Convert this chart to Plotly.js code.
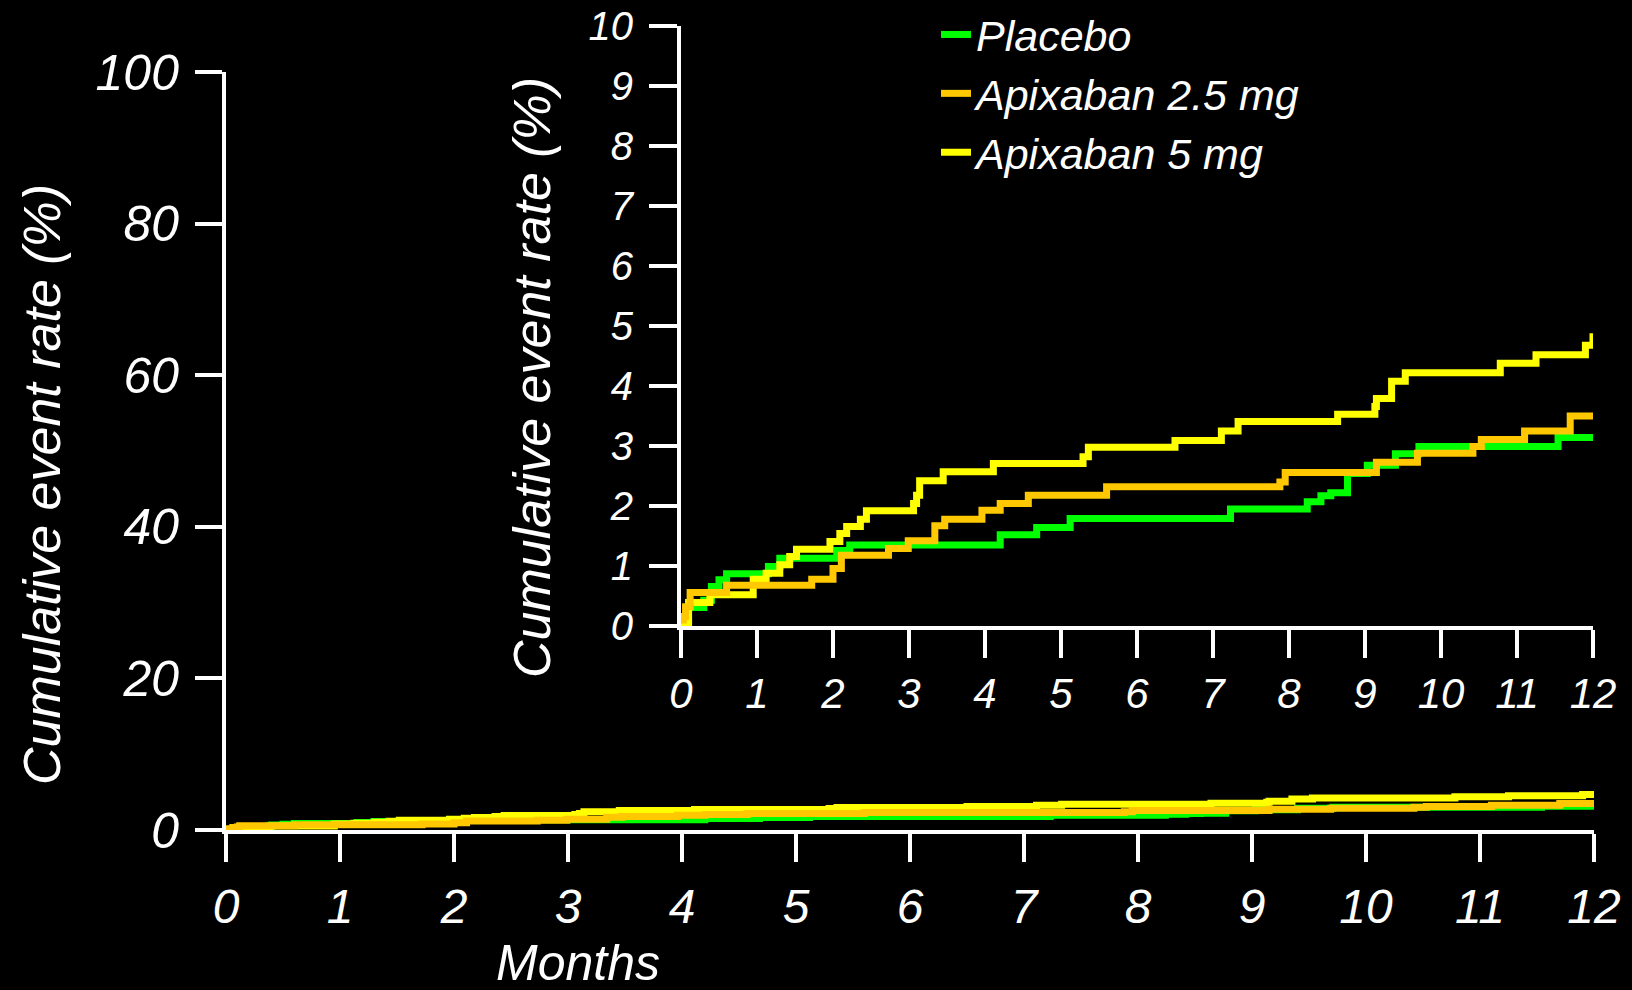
<!DOCTYPE html>
<html>
<head>
<meta charset="utf-8">
<script src="https://cdn.plot.ly/plotly-3.0.1.min.js"></script>
<style>html,body{margin:0;padding:0;background:#000;}#chart{width:1632px;height:990px;}</style>
</head>
<body>
<div id="chart"></div>
<script>
// Kaplan-Meier style cumulative event rates (%), step points
const seriesNames = ["Placebo", "Apixaban 2.5 mg", "Apixaban 5 mg"];
const seriesColors = ["#00ff00", "#ffc800", "#ffff00"];

const placeboMonths = [0, 0.08, 0.3, 0.4, 0.5, 0.6, 1.15, 1.3, 2.05, 2.22, 4.2, 4.68, 5.12, 7.23, 8.24, 8.42, 8.55, 8.77, 9.03, 9.4, 9.71, 11.54, 12];
const placeboRate   = [0, 0.31, 0.43, 0.66, 0.77, 0.87, 0.99, 1.13, 1.26, 1.35, 1.52, 1.64, 1.79, 1.95, 2.07, 2.17, 2.22, 2.54, 2.68, 2.87, 2.99, 3.14, 3.14];

const apix25Months = [0, 0.03, 0.06, 0.12, 0.6, 1.72, 2.0, 2.11, 2.73, 2.99, 3.34, 3.47, 3.96, 4.2, 4.57, 5.6, 7.88, 7.95, 9.15, 9.69, 10.42, 10.53, 11.1, 11.7, 12];
const apix25Rate   = [0.1, 0.16, 0.32, 0.56, 0.68, 0.78, 0.96, 1.18, 1.29, 1.42, 1.67, 1.78, 1.93, 2.04, 2.18, 2.32, 2.4, 2.56, 2.73, 2.88, 2.99, 3.11, 3.25, 3.5, 3.5];

const apix5Months = [0, 0.1, 0.38, 0.95, 1.12, 1.3, 1.43, 1.52, 1.96, 2.09, 2.18, 2.36, 2.44, 3.06, 3.1, 3.14, 3.45, 4.11, 5.29, 5.36, 6.5, 7.11, 7.33, 8.64, 9.13, 9.15, 9.35, 9.53, 10.78, 11.25, 11.9, 12];
const apix5Rate   = [0, 0.39, 0.52, 0.78, 0.88, 1.02, 1.16, 1.28, 1.41, 1.54, 1.66, 1.78, 1.92, 2.04, 2.18, 2.42, 2.57, 2.71, 2.82, 2.98, 3.09, 3.25, 3.41, 3.53, 3.66, 3.79, 4.08, 4.22, 4.38, 4.52, 4.68, 4.88];

const monthTicks = [0,1,2,3,4,5,6,7,8,9,10,11,12];
const mainYTicks = [0,20,40,60,80,100];
const insetYTicks = [0,1,2,3,4,5,6,7,8,9,10];

const FONT = "Liberation Sans, Arial, Helvetica, sans-serif";
const W = 1632, H = 990;

// draw order: green, yellow, orange (orange on top); legend order via legendrank
const order = [
  {x: placeboMonths, y: placeboRate, i: 0, rank: 1},
  {x: apix5Months, y: apix5Rate, i: 2, rank: 3},
  {x: apix25Months, y: apix25Rate, i: 1, rank: 2}
];

const traces = [];
order.forEach(s => {
  traces.push({
    type: "scatter", mode: "lines", x: s.x, y: s.y, xaxis: "x", yaxis: "y",
    line: {color: seriesColors[s.i], width: 7, shape: "hv"},
    name: seriesNames[s.i], showlegend: false, hoverinfo: "skip"
  });
});
order.forEach(s => {
  traces.push({
    type: "scatter", mode: "lines", x: s.x, y: s.y, xaxis: "x2", yaxis: "y2",
    line: {color: seriesColors[s.i], width: 7, shape: "hv"},
    name: seriesNames[s.i], showlegend: true, legendrank: s.rank, hoverinfo: "skip"
  });
});

function axisBase(extra) {
  return Object.assign({
    showgrid: false, zeroline: false, showline: true,
    linecolor: "#ffffff", linewidth: 4,
    ticks: "outside", tickcolor: "#ffffff", tickwidth: 4,
    fixedrange: true
  }, extra);
}

const layout = {
  width: W, height: H,
  margin: {l: 0, r: 0, t: 0, b: 0, pad: 0},
  paper_bgcolor: "#000000", plot_bgcolor: "#000000",
  font: {family: FONT, color: "#ffffff"},
  showlegend: true,
  legend: {
    x: 936 / W, y: 1 - 0 / H, xanchor: "left", yanchor: "top",
    bgcolor: "rgba(0,0,0,0)", borderwidth: 0,
    font: {family: FONT, size: 43, color: "#ffffff", style: "italic"},
    traceorder: "normal"
  },
  xaxis: axisBase({
    domain: [226 / W, 1594 / W], range: [0, 12], anchor: "y",
    tickmode: "array", tickvals: monthTicks, ticktext: monthTicks.map(String),
    ticklen: 28, ticklabelstandoff: 3,
    tickfont: {family: FONT, size: 48, color: "#ffffff", style: "italic"}
  }),
  yaxis: axisBase({
    domain: [160 / H, 918 / H], range: [0, 100], anchor: "x",
    tickmode: "array", tickvals: mainYTicks, ticktext: mainYTicks.map(String),
    ticklen: 27, ticklabelstandoff: 6,
    tickfont: {family: FONT, size: 50, color: "#ffffff", style: "italic"}
  }),
  xaxis2: axisBase({
    domain: [681 / W, 1593 / W], range: [0, 12], anchor: "y2",
    tickmode: "array", tickvals: monthTicks, ticktext: monthTicks.map(String),
    ticklen: 28, ticklabelstandoff: 0,
    tickfont: {family: FONT, size: 42, color: "#ffffff", style: "italic"}
  }),
  yaxis2: axisBase({
    domain: [364 / H, 964 / H], range: [0, 10], anchor: "x2",
    tickmode: "array", tickvals: insetYTicks, ticktext: insetYTicks.map(String),
    ticklen: 28, ticklabelstandoff: 8,
    tickfont: {family: FONT, size: 40, color: "#ffffff", style: "italic"}
  }),
  annotations: [
    {text: "Cumulative event rate (%)", xref: "paper", yref: "paper",
     x: 42 / W, y: 1 - 485 / H, xanchor: "center", yanchor: "middle",
     textangle: -90, showarrow: false,
     font: {family: FONT, size: 52, color: "#ffffff", style: "italic"}},
    {text: "Cumulative event rate (%)", xref: "paper", yref: "paper",
     x: 532 / W, y: 1 - 378 / H, xanchor: "center", yanchor: "middle",
     textangle: -90, showarrow: false,
     font: {family: FONT, size: 52, color: "#ffffff", style: "italic"}},
    {text: "Months", xref: "paper", yref: "paper",
     x: 578 / W, y: 1 - 963 / H, xanchor: "center", yanchor: "middle",
     showarrow: false,
     font: {family: FONT, size: 50, color: "#ffffff", style: "italic"}}
  ]
};

Plotly.newPlot("chart", traces, layout, {staticPlot: true, displayModeBar: false});
</script>
</body>
</html>
